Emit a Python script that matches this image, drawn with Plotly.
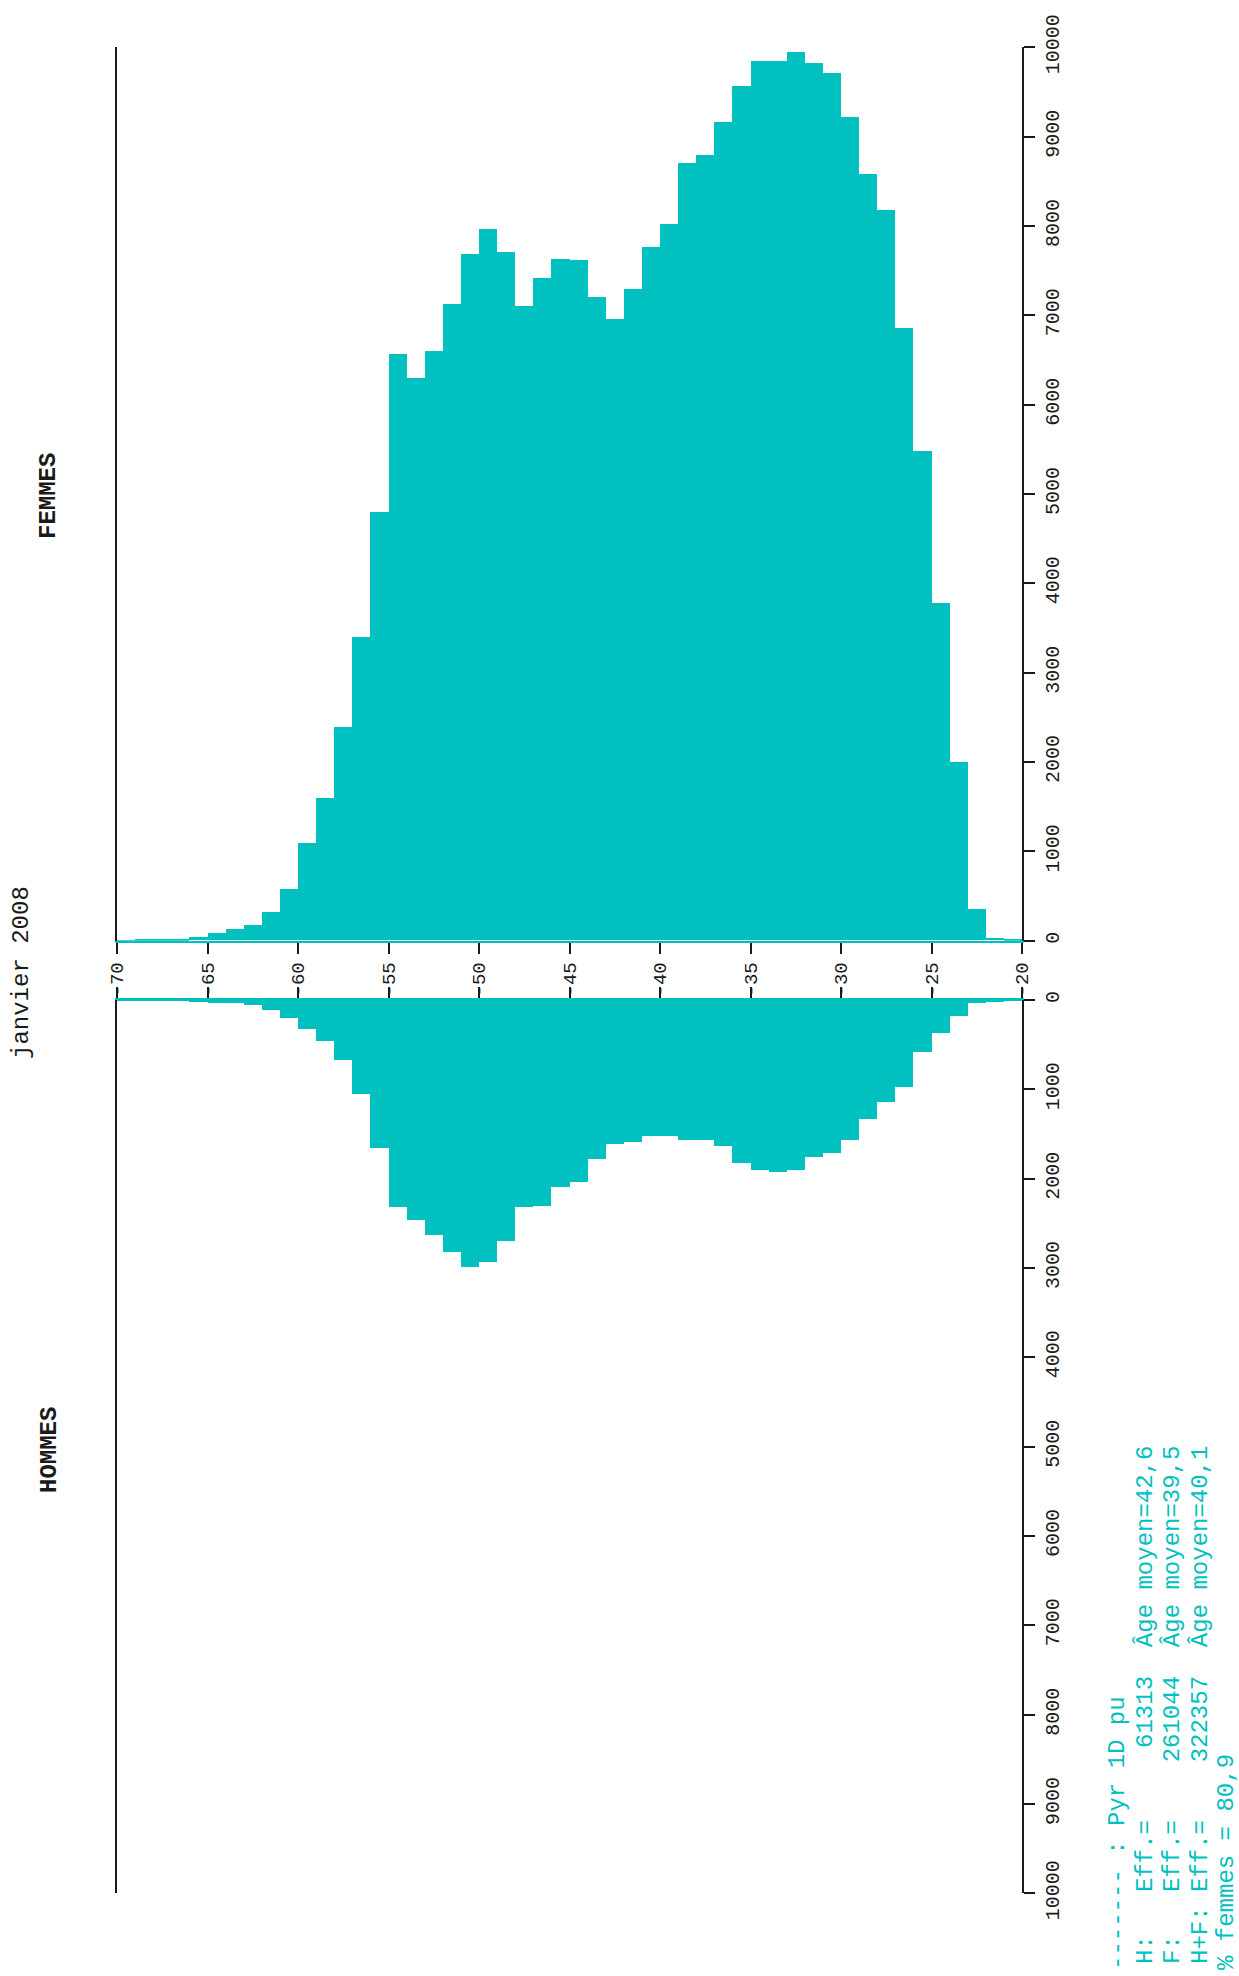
import plotly.graph_objects as go

# Population by single year of age, January 2008
ages = list(range(20, 70))
femmes = [6, 26, 357, 1992, 3777, 5478, 6860, 8177, 8580, 9216,
          9709, 9826, 9943, 9845, 9845, 9566, 9164, 8794, 8697, 8021,
          7762, 7288, 6957, 7197, 7613, 7632, 7412, 7100, 7704, 7963,
          7684, 7120, 6600, 6295, 6568, 4790, 3400, 2388, 1590, 1090,
          578, 318, 175, 130, 78, 40, 15, 10, 6, 4]
hommes = [8, 20, 37, 179, 369, 578, 977, 1145, 1332, 1571,
          1713, 1757, 1903, 1921, 1903, 1828, 1638, 1567, 1567, 1522,
          1522, 1593, 1615, 1783, 2041, 2089, 2302, 2321, 2701, 2936,
          2985, 2817, 2630, 2462, 2321, 1660, 1052, 672, 463, 321,
          201, 108, 60, 34, 34, 19, 8, 6, 5, 4]

age_ticks = list(range(20, 75, 5))
age_labels = ["-" + str(a) for a in age_ticks]
value_ticks = list(range(0, 10001, 1000))

title = "janvier 2008"
stats_lines = [
    "------- : Pyr 1D pu",
    "H:   Eff.=     61313  Âge moyen=42,6",
    "F:   Eff.=    261044  Âge moyen=39,5",
    "H+F: Eff.=    322357  Âge moyen=40,1",
    "% femmes = 80,9",
]

BAR = "#00C0C0"
INK = "#1a1a1a"
MONO = "Liberation Mono, Courier New, monospace"

W, H = 1239, 1976
L, R = 117, 217
PW = W - L - R


def px_x(px):
    return (px - L) / PW


def px_y(py):
    return 1 - py / H


fig = go.Figure()
fig.add_trace(go.Bar(x=ages, y=femmes, offset=0, width=1, marker=dict(color=BAR, line_width=0),
                     xaxis="x", yaxis="y", hoverinfo="x+y", showlegend=False))
fig.add_trace(go.Bar(x=ages, y=hommes, offset=0, width=1, marker=dict(color=BAR, line_width=0),
                     xaxis="x2", yaxis="y2", hoverinfo="x+y", showlegend=False))

common_y = dict(
    side="right", showline=True, linecolor=INK, linewidth=2, mirror=True,
    ticks="outside", ticklen=11, tickwidth=2, tickcolor=INK,
    tickvals=value_ticks, ticktext=[str(v) for v in value_ticks],
    tickangle=-90, tickfont=dict(family=MONO, size=20, color=INK),
    showgrid=False, zeroline=False, automargin=False, ticklabelstandoff=0,
)

fig.update_layout(
    width=W, height=H,
    margin=dict(l=L, r=R, t=0, b=0, pad=0),
    paper_bgcolor="white", plot_bgcolor="white",
    bargap=0, barmode="overlay",
    xaxis=dict(domain=[0, 1], range=[70, 20], anchor="y", side="bottom",
               showline=True, linecolor=BAR, linewidth=2,
               ticks="outside", ticklen=11, tickwidth=2, tickcolor=INK,
               tickvals=age_ticks, ticktext=age_labels, tickangle=-90,
               tickfont=dict(family=MONO, size=19, color=INK),
               showgrid=False, zeroline=False, automargin=False, ticklabelstandoff=1),
    xaxis2=dict(domain=[0, 1], range=[70, 20], anchor="y2", side="top",
                showline=True, linecolor=BAR, linewidth=2,
                ticks="outside", ticklen=11, tickwidth=2, tickcolor=INK,
                tickvals=age_ticks, showticklabels=False,
                showgrid=False, zeroline=False, automargin=False),
    yaxis=dict(domain=[px_y(940.7), px_y(47.3)], range=[0, 10000], anchor="x", **common_y),
    yaxis2=dict(domain=[px_y(1893.3), px_y(1000.0)], range=[10000, 0], anchor="x2", **common_y),
)

annotations = [
    dict(text=title, x=px_x(21), y=px_y(973), textangle=-90,
         font=dict(family=MONO, size=24, color=INK)),
    dict(text="<b>FEMMES</b>", x=px_x(49), y=px_y(496), textangle=-90,
         font=dict(family=MONO, size=24, color=INK)),
    dict(text="<b>HOMMES</b>", x=px_x(49), y=px_y(1450), textangle=-90,
         font=dict(family=MONO, size=24, color=INK)),
]
line_x = [1117, 1145, 1172, 1200, 1226]
line_start = [1972, 1966, 1966, 1966, 1972]
for lx, ly, txt in zip(line_x, line_start, stats_lines):
    annotations.append(dict(text=txt.replace(" ", "\u00a0"), x=px_x(lx), y=px_y(ly),
                            yanchor="bottom", textangle=-90,
                            font=dict(family=MONO, size=24, color=BAR)))
for a in annotations:
    a.setdefault("xanchor", "center")
    a.setdefault("yanchor", "middle")
    a.update(xref="paper", yref="paper", showarrow=False)
fig.update_layout(annotations=annotations)

fig.write_html("out.html")
